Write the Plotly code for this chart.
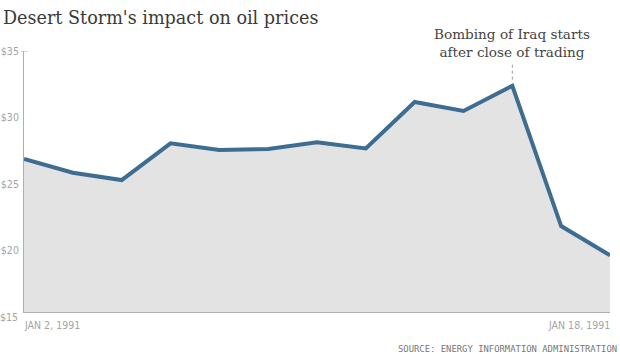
import plotly.graph_objects as go

dates = ["JAN 2, 1991", "JAN 3, 1991", "JAN 4, 1991", "JAN 7, 1991", "JAN 8, 1991",
         "JAN 9, 1991", "JAN 10, 1991", "JAN 11, 1991", "JAN 14, 1991", "JAN 15, 1991",
         "JAN 16, 1991", "JAN 17, 1991", "JAN 18, 1991"]
prices = [26.88, 25.85, 25.30, 28.06, 27.56, 27.63, 28.14, 27.68, 31.17, 30.49, 32.39, 21.84, 19.64]
y_ticks = [15, 20, 25, 30, 35]
y_tick_labels = ["$15", "$20", "$25", "$30", "$35"]
event_date = "JAN 16, 1991"
event_text = "Bombing of Iraq starts<br>after close of trading"

LABEL_FONT = "DejaVu Sans Condensed, sans-serif"
SERIF = "DejaVu Serif, serif"
LBL = dict(family=LABEL_FONT, size=10.5, color="#a4a4a4")

fig = go.Figure()
fig.add_trace(go.Scatter(
    x=dates, y=prices, mode="lines",
    line=dict(color="#3e6d92", width=4),
    fill="tozeroy", fillcolor="#e3e3e3",
    hoverinfo="skip",
))

ymin = 15.38
fig.update_layout(
    width=620, height=354,
    margin=dict(l=24, r=10, t=51, b=42),
    paper_bgcolor="white", plot_bgcolor="white",
    showlegend=False,
    title=dict(text="Desert Storm's impact on oil prices",
               font=dict(family=SERIF, size=17.6, color="#3a3a3a"),
               x=3 / 620, xanchor="left", xref="container",
               y=1 - 17.5 / 354, yanchor="middle"),
    xaxis=dict(type="category", range=[0, len(dates) - 1], showgrid=False,
               showticklabels=False, ticks="", zeroline=False, automargin=False,
               showline=True, linecolor="#b0b0b0", linewidth=1),
    yaxis=dict(range=[ymin, 35], showgrid=False, zeroline=False, automargin=False,
               tickvals=y_ticks[1:], ticktext=y_tick_labels[1:], ticks="",
               tickfont=LBL,
               showline=True, linecolor="#b0b0b0", linewidth=1, ticklabelstandoff=2),
)

# $35 tick mark (crosses the axis)
fig.add_shape(type="line", xref="paper", yref="y", x0=-3 / 586, x1=4 / 586, y0=35, y1=35,
              line=dict(color="#b0b0b0", width=1))
# $15 label (sits just below the plotted range)
fig.add_annotation(xref="paper", yref="paper", x=0, y=0, text=y_tick_labels[0],
                   showarrow=False, xanchor="right", yanchor="middle", xshift=-4, yshift=-5,
                   font=LBL)

# date labels
fig.add_annotation(xref="paper", yref="paper", x=0, y=0, text=dates[0], showarrow=False,
                   xanchor="left", yanchor="top", yshift=-5, xshift=-2, font=LBL)
fig.add_annotation(xref="paper", yref="paper", x=1, y=0, text=dates[-1], showarrow=False,
                   xanchor="right", yanchor="top", yshift=-5, xshift=2, font=LBL)

# event annotation
ev_i = dates.index(event_date)
fig.add_shape(type="line", xref="x", yref="y", x0=ev_i, x1=ev_i, y0=32.85, y1=34.2,
              line=dict(color="#999999", width=1, dash="dot"))
fig.add_annotation(xref="x", yref="y", x=ev_i, y=34.2, text=event_text, showarrow=False,
                   xanchor="center", yanchor="bottom",
                   font=dict(family=SERIF, size=13.6, color="#444444"))

# source
fig.add_annotation(xref="paper", yref="paper", x=1, y=0, text="SOURCE: ENERGY INFORMATION ADMINISTRATION",
                   showarrow=False, xanchor="right", yanchor="top", yshift=-30, xshift=9,
                   font=dict(family="DejaVu Sans Mono, monospace", size=8.9, color="#777777"))

fig.write_html("out.html")
